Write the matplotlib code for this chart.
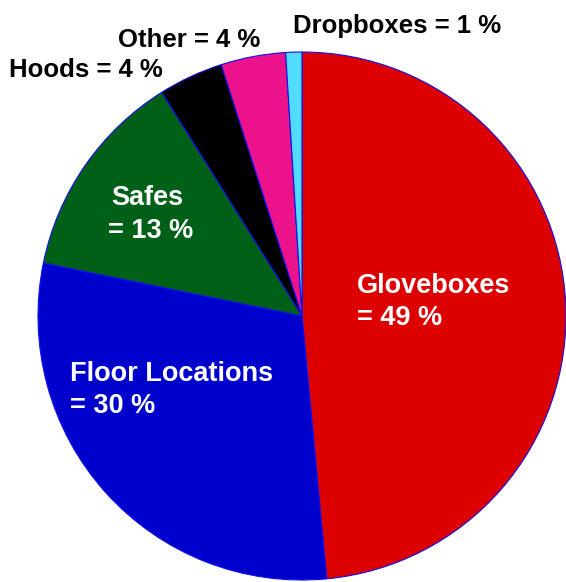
import matplotlib.pyplot as plt

plt.rcParams['font.family'] = ['Liberation Sans', 'DejaVu Sans']

# slices, clockwise from 12 o'clock
labels = ['Gloveboxes', 'Floor Locations', 'Safes', 'Hoods', 'Other', 'Dropboxes']
shares = [49, 30, 13, 4, 4, 1]
colors = ['#dd0000', '#0000cc', '#006018', '#000000', '#ec128c', '#50dcff']

W, H = 566, 582
fig = plt.figure(figsize=(W / 100, H / 100), dpi=100)

# pie centre ~ (302, 316) px, radius ~264 px
cx, cy, r = 302, 316, 264
ax = fig.add_axes([(cx - r) / W, 1 - (cy + r) / H, 2 * r / W, 2 * r / H])
ax.pie(shares, colors=colors, startangle=90, counterclock=False,
       wedgeprops=dict(edgecolor='#1010ee', linewidth=0.8))
ax.set_xlim(-1, 1)
ax.set_ylim(-1, 1)
ax.set_aspect('auto')
ax.axis('off')


def px_text(x, y, s, color, size):
    # x, y in pixels from top-left, y = baseline
    fig.text(x / W, 1 - y / H, s, color=color, fontsize=size, fontweight='bold',
             ha='left', va='baseline')


# labels inside the slices
px_text(357, 293, labels[0], 'white', 19.5)
px_text(357, 325, f'= {shares[0]} %', 'white', 19.5)
px_text(70, 381, labels[1], 'white', 19.5)
px_text(70, 413, f'= {shares[1]} %', 'white', 19.5)
px_text(111, 205, labels[2], 'white', 19.5)
px_text(108, 238, f'= {shares[2]} %', 'white', 19.5)

# labels outside the pie
px_text(9, 77, f'{labels[3]} = {shares[3]} %', 'black', 18.5)
px_text(118, 47, f'{labels[4]} = {shares[4]} %', 'black', 18.5)
px_text(293, 33, f'{labels[5]} = {shares[5]} %', 'black', 18.5)

fig.savefig('out.png', dpi=100)
